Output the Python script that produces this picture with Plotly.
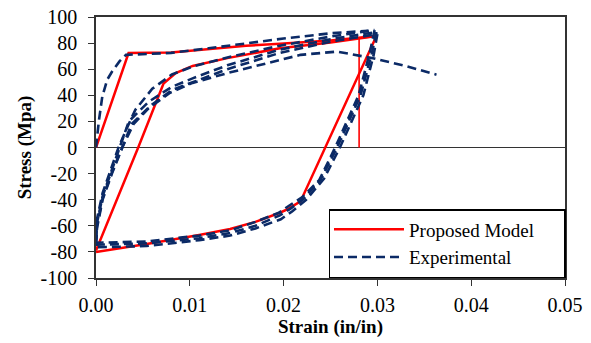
import plotly.graph_objects as go

# ---------------- data ----------------
# Proposed model
model_load_strain = [0.0, 0.00347, 0.0080, 0.0120, 0.0160, 0.0196, 0.0250, 0.0299]
model_load_stress = [0.0, 72.4, 72.8, 75.5, 78.0, 79.5, 82.0, 85.5]

model_unload_strain = [0.0299, 0.0218, 0.0205, 0.0196, 0.0170, 0.0143, 0.0110, 0.0054, 0.0]
model_unload_stress = [85.5, -41.3, -47.0, -50.0, -57.0, -62.5, -67.0, -74.0, -80.0]

model_reload_strain = [0.0, 0.0045, 0.0072, 0.0085, 0.0103, 0.0140, 0.0196, 0.0250, 0.0299]
model_reload_stress = [-79.0, 0.0, 49.0, 57.0, 62.5, 68.5, 76.0, 80.5, 85.5]

model_final_strain = [0.02805, 0.02805]
model_final_stress = [83.5, 0.0]

# Experimental
exp_load_strain = [0.0, 0.0001, 0.0003, 0.00067, 0.0012, 0.0017, 0.0025, 0.0032, 0.0050,
                   0.0080, 0.0120, 0.0160, 0.0200, 0.0250, 0.0290]
exp_load_stress = [0.0, 8.0, 20.0, 39.0, 52.0, 58.0, 66.0, 71.0, 71.5,
                   72.5, 76.0, 80.0, 83.5, 87.5, 89.5]

exp_cycle1_strain = [0.0297, 0.0292, 0.0280, 0.0255, 0.0238, 0.0220, 0.0205, 0.0195, 0.0170,
                     0.0143, 0.0110, 0.0054, 0.0, 0.0001, 0.0007, 0.0017, 0.0024, 0.0033,
                     0.0042, 0.0060, 0.0081, 0.0103, 0.0140, 0.0196, 0.0250, 0.0297]
exp_cycle1_stress = [90.0, 73.0, 40.0, 0.0, -25.0, -38.0, -45.0, -50.0, -57.0,
                     -63.5, -67.5, -72.0, -73.0, -55.0, -35.0, -14.0, 0.0, 15.0,
                     29.0, 45.0, 56.0, 62.0, 69.0, 78.0, 85.0, 90.0]

exp_cycle2_strain = [0.0299, 0.0294, 0.0282, 0.0257, 0.0240, 0.0222, 0.0207, 0.0196, 0.0170,
                     0.0143, 0.0110, 0.0054, 0.0, 0.0001, 0.0007, 0.0017, 0.0026, 0.0035,
                     0.0056, 0.0081, 0.0103, 0.0140, 0.0196, 0.0250, 0.0299]
exp_cycle2_stress = [88.5, 72.0, 40.0, 0.0, -24.0, -39.0, -47.0, -52.0, -60.0,
                     -65.5, -69.5, -73.5, -74.5, -58.0, -37.5, -17.0, 0.0, 20.0,
                     35.0, 46.5, 53.0, 63.0, 75.0, 83.0, 88.5]

exp_cycle3_strain = [0.0300, 0.0296, 0.0285, 0.0260, 0.0243, 0.0224, 0.0209, 0.0197, 0.0170,
                     0.0143, 0.0110, 0.0054, 0.0, 0.0001, 0.0007, 0.0017, 0.0028, 0.0038,
                     0.0058, 0.0081, 0.0103, 0.0140, 0.0196, 0.0250, 0.0300]
exp_cycle3_stress = [87.0, 71.0, 40.0, 0.0, -24.0, -40.0, -49.0, -55.0, -62.0,
                     -67.5, -71.0, -75.5, -76.5, -62.0, -40.0, -20.0, 0.0, 18.0,
                     32.0, 44.0, 50.0, 60.0, 72.5, 81.0, 87.0]

exp_final_strain = [0.0, 0.0001, 0.0007, 0.0017, 0.0028, 0.0040, 0.0056, 0.0079, 0.0103,
                    0.0140, 0.0196, 0.0218, 0.0257, 0.0294, 0.0330, 0.0363]
exp_final_stress = [-74.0, -60.0, -39.0, -19.0, 0.0, 18.0, 30.0, 42.0, 49.5,
                    57.0, 67.0, 71.0, 73.5, 68.6, 62.5, 55.8]

x_ticks = [0.0, 0.01, 0.02, 0.03, 0.04, 0.05]
x_tick_labels = ["0.00", "0.01", "0.02", "0.03", "0.04", "0.05"]
y_ticks = [-100, -80, -60, -40, -20, 0, 20, 40, 60, 80, 100]
y_tick_labels = ["-100", "-80", "-60", "-40", "-20", "0", "20", "40", "60", "80", "100"]

# ---------------- styles ----------------
RED = "#FF0000"
BLUE = "#0B2A66"
FONT = "Liberation Serif, Times New Roman, serif"
DASH = "9px,5px"

fig = go.Figure()

red_sets = [(model_load_strain, model_load_stress),
            (model_unload_strain, model_unload_stress),
            (model_reload_strain, model_reload_stress),
            (model_final_strain, model_final_stress)]
for i, (xs, ys) in enumerate(red_sets):
    fig.add_trace(go.Scatter(
        x=xs, y=ys, mode="lines", name="Proposed Model",
        legendgroup="model", showlegend=(i == 0),
        line=dict(color=RED, width=2.5 if i < 3 else 1.6)))

blue_sets = [(exp_load_strain, exp_load_stress),
             (exp_cycle1_strain, exp_cycle1_stress),
             (exp_cycle2_strain, exp_cycle2_stress),
             (exp_cycle3_strain, exp_cycle3_stress),
             (exp_final_strain, exp_final_stress)]
for i, (xs, ys) in enumerate(blue_sets):
    fig.add_trace(go.Scatter(
        x=xs, y=ys, mode="lines", name="Experimental",
        legendgroup="exp", showlegend=(i == 0),
        line=dict(color=BLUE, width=2.6, dash=DASH)))

axis_common = dict(
    showgrid=False, showline=True, linecolor="#333333", linewidth=1.5,
    mirror=True, ticks="outside", ticklen=6, tickwidth=1.2, tickcolor="#333333",
    tickfont=dict(family=FONT, size=20, color="black"),
    automargin=False, ticklabeloverflow="allow",
)

fig.update_xaxes(
    range=[0, 0.05], tickvals=x_ticks, ticktext=x_tick_labels,
    zeroline=False, ticklabelstandoff=2,
    title=dict(text="<b>Strain (in/in)</b>", font=dict(family=FONT, size=19, color="black"),
               standoff=3),
    **axis_common)
fig.update_yaxes(
    range=[-100, 100], tickvals=y_ticks, ticktext=y_tick_labels,
    zeroline=True, zerolinecolor="#333333", zerolinewidth=1.2,
    ticklabelstandoff=7,
    title=dict(text="<b>Stress (Mpa)</b>", font=dict(family=FONT, size=19, color="black"),
               standoff=4),
    **axis_common)

fig.update_layout(
    width=591, height=343,
    margin=dict(l=96, r=26, t=17, b=65),
    plot_bgcolor="white", paper_bgcolor="white",
    font=dict(family=FONT, color="black"),
    legend=dict(
        orientation="h",
        x=0.4968, y=0.0, xanchor="left", yanchor="bottom",
        bgcolor="white", bordercolor="black", borderwidth=1.5,
        font=dict(family=FONT, size=19, color="black"),
        entrywidth=150, entrywidthmode="pixels",
        tracegroupgap=0, itemwidth=70,
    ),
)

# remove the browser's default 8px body margin so the 591x343 figure fills the window
fig.write_html("out.html", config={"displayModeBar": False},
               post_script="document.body.style.margin='0px';")
